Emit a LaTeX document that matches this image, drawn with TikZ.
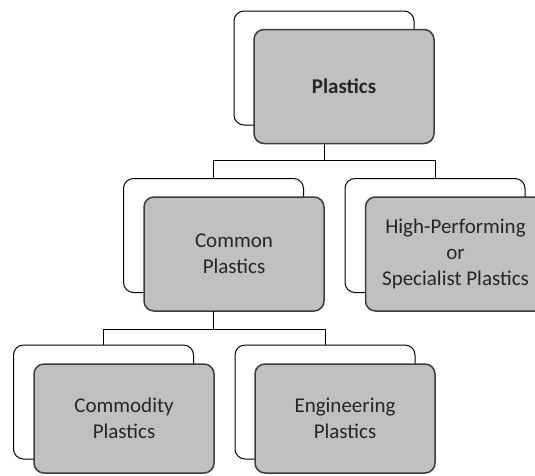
\documentclass[tikz,border=0pt]{standalone}
\usepackage{fontspec}
\setmainfont{Carlito}
\usepackage{tikz}
\usetikzlibrary{positioning}
\definecolor{boxgray}{RGB}{192, 192, 195}
\definecolor{edgegray}{RGB}{60, 60, 60}
\tikzset{
  backbox/.style={draw=black, line width=1pt, fill=white, rounded corners=10pt,
    minimum width=180pt, minimum height=114pt, inner sep=0pt, outer sep=0pt},
  frontbox/.style={draw=edgegray, line width=1.5pt, fill=boxgray, rounded corners=10pt,
    minimum width=180pt, minimum height=114pt, inner sep=0pt, outer sep=0pt,
    align=center, text=black!85, font=\fontsize{21}{26}\selectfont},
  link/.style={draw=black, line width=1pt}
}

\begin{document}
\begin{tikzpicture}[x=1pt, y=-1pt]
            \useasboundingbox (0,0) rectangle (535,475);

            % Top level
            \node[backbox] (plasticsB) at (324,68) {};
            \node[frontbox, font=\fontsize{21}{26}\selectfont\bfseries] (plastics) at (344,86.5) {Plastics};

            % Second level
            \node[backbox] (commonB) at (213.5,235.5) {};
            \node[frontbox] (common) at (234,254) {Common\\Plastics};
            \node[backbox] (hpB) at (435,235.5) {};
            \node[frontbox] (hp) at (455.5,254) {High-Performing\\or\\Specialist Plastics};

            % Third level
            \node[backbox] (commodityB) at (103.5,402) {};
            \node[frontbox, minimum height=109pt] (commodity) at (124,418.5) {Commodity\\Plastics};
            \node[backbox] (engB) at (325,402) {};
            \node[frontbox, minimum height=109pt] (eng) at (345,418.5) {Engineering\\Plastics};

            % Connectors
            \draw[link] (plasticsB |- plastics.south) -- ++(0,17) -| (commonB.north);
            \draw[link] (plasticsB |- plastics.south) -- ++(0,17) -| (hpB.north);
            \draw[link] (commonB |- common.south) -- ++(0,18.5) -| (commodityB.north);
            \draw[link] (commonB |- common.south) -- ++(0,18.5) -| (engB.north);
        \end{tikzpicture}
\end{document}
